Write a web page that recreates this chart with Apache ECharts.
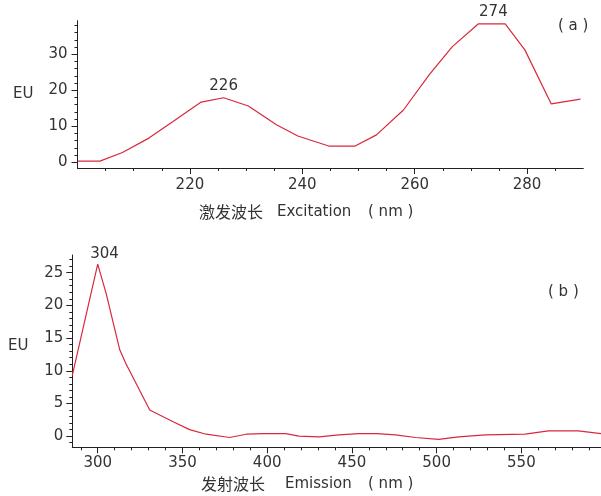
<!DOCTYPE html>
<html>
<head>
<meta charset="utf-8">
<script src="https://cdn.jsdelivr.net/npm/echarts@6/dist/echarts.min.js"></script>
<style>
html,body{margin:0;padding:0;background:#fff;}
#chart{width:601px;height:496px;}
</style>
</head>
<body>
<div id="chart"></div>
<script>
// ---- Data: (a) excitation spectrum ----
const excWavelength = [200, 204, 208, 212.7, 217, 222, 226, 230.4, 235.4, 239.2, 244.7, 249.4, 253.2, 258, 262.6, 266.7, 271.3, 276.1, 279.6, 284.3, 289.5];
const excIntensity  = [0.3, 0.3, 2.7, 6.7, 11.3, 16.7, 17.9, 15.6, 10.4, 7.3, 4.5, 4.5, 7.6, 14.5, 24.3, 32.1, 38.4, 38.4, 31.2, 16.2, 17.5];
const excPeakX = [226, 274];
const excPeakY = [17.9, 38.4];
const excXTicks = [220, 240, 260, 280];
const excYTicks = [0, 10, 20, 30];

// ---- Data: (b) emission spectrum ----
const emWavelength = [285, 300, 305, 313, 316.6, 330.7, 344.5, 354.2, 364, 377.8, 387.6, 397.4, 411, 418.8, 430.6, 442.4, 454, 464.9, 475.7, 487.5, 501.2, 513, 528.7, 552.2, 566, 583.6, 597];
const emIntensity  = [9.3, 26.3, 21.8, 13.2, 11.1, 4.0, 2.2, 1.0, 0.3, -0.2, 0.3, 0.4, 0.4, 0.0, -0.1, 0.2, 0.4, 0.4, 0.2, -0.2, -0.5, -0.1, 0.2, 0.3, 0.8, 0.8, 0.4];
const emPeakX = [304];
const emPeakY = [26.3];
const emXTicks = [300, 350, 400, 450, 500, 550];
const emYTicks = [0, 5, 10, 15, 20, 25];

function steps(a, b, s) { const r = []; for (let v = a; v <= b + 1e-9; v += s) r.push(+v.toFixed(6)); return r; }

const RED = '#d8283c';
const TXT = '#333';
const FONT = '"DejaVu Sans", "Noto Sans CJK SC", sans-serif';

const ranges = {
  ax: [200, 290], ay: [-1.6, 39.3],
  bx: [285, 597], by: [-1.7, 27.7]
};

function mainX(grid, r, ticks, margin) {
  return {
    type: 'value', gridIndex: grid, position: 'bottom', min: r[0], max: r[1],
    axisLine: { show: true, onZero: false, lineStyle: { color: '#222', width: 1 } },
    axisTick: { show: true, length: 6, customValues: ticks, lineStyle: { color: '#222' } },
    axisLabel: { customValues: ticks, margin: margin, color: TXT, fontSize: 15, fontFamily: FONT },
    splitLine: { show: false }
  };
}
function minorX(grid, r, ticks) {
  return {
    type: 'value', gridIndex: grid, position: 'bottom', min: r[0], max: r[1],
    axisLine: { show: false, onZero: false },
    axisTick: { show: true, length: 3, customValues: ticks, lineStyle: { color: '#222' } },
    axisLabel: { show: false },
    splitLine: { show: false }
  };
}
function mainY(grid, r, ticks, margin) {
  return {
    type: 'value', gridIndex: grid, position: 'left', min: r[0], max: r[1],
    axisLine: { show: true, onZero: false, lineStyle: { color: '#222', width: 1 } },
    axisTick: { show: true, length: 6, customValues: ticks, lineStyle: { color: '#222' } },
    axisLabel: { customValues: ticks, margin: margin, color: TXT, fontSize: 15, fontFamily: FONT },
    splitLine: { show: false }
  };
}
function minorY(grid, r, ticks) {
  return {
    type: 'value', gridIndex: grid, position: 'left', min: r[0], max: r[1],
    axisLine: { show: false, onZero: false },
    axisTick: { show: true, length: 3, customValues: ticks, lineStyle: { color: '#222' } },
    axisLabel: { show: false },
    splitLine: { show: false }
  };
}

function peakMarks(xs, ys, dist) {
  return {
    symbol: 'circle', symbolSize: 1, silent: true,
    itemStyle: { color: 'rgba(0,0,0,0)' },
    label: { show: true, position: 'top', distance: dist, color: TXT, fontSize: 15, fontFamily: FONT, formatter: p => String(p.data.name) },
    data: xs.map((x, i) => ({ name: String(x), coord: [x, ys[i]] }))
  };
}

const chart = echarts.init(document.getElementById('chart'), null, { renderer: 'canvas' });
const option = {
  animation: false,
  backgroundColor: '#fff',
  grid: [
    { left: 77.5, top: 20.7, width: 505.8, height: 147.3 },
    { left: 72.3, top: 255, width: 528.7, height: 192.3 }
  ],
  xAxis: [
    mainX(0, ranges.ax, excXTicks, 10),
    minorX(0, ranges.ax, steps(205, 285, 5).filter(v => excXTicks.indexOf(v) < 0)),
    mainX(1, ranges.bx, emXTicks, 8),
    minorX(1, ranges.bx, steps(290, 590, 10).filter(v => emXTicks.indexOf(v) < 0))
  ],
  yAxis: [
    mainY(0, ranges.ay, excYTicks, 10),
    minorY(0, ranges.ay, steps(2, 38, 2).filter(v => excYTicks.indexOf(v) < 0)),
    mainY(1, ranges.by, emYTicks, 9),
    minorY(1, ranges.by, steps(-1, 27, 1).filter(v => emYTicks.indexOf(v) < 0))
  ],
  series: [
    {
      type: 'line', xAxisIndex: 0, yAxisIndex: 0, showSymbol: false, symbol: 'none',
      lineStyle: { color: RED, width: 1.2 }, itemStyle: { color: RED },
      data: excWavelength.map((x, i) => [x, excIntensity[i]]),
      markPoint: peakMarks(excPeakX, excPeakY, 4)
    },
    {
      type: 'line', xAxisIndex: 2, yAxisIndex: 2, showSymbol: false, symbol: 'none',
      lineStyle: { color: RED, width: 1.2 }, itemStyle: { color: RED },
      data: emWavelength.map((x, i) => [x, emIntensity[i]]),
      markPoint: peakMarks(emPeakX, emPeakY, 2)
    }
  ],
  graphic: [
    { type: 'text', left: 13, top: 87, style: { text: 'EU', fill: TXT, font: '15px ' + FONT } },
    { type: 'text', left: 8, top: 339, style: { text: 'EU', fill: TXT, font: '15px ' + FONT } },
    { type: 'text', left: 558, top: 19, style: { text: '( a )', fill: TXT, font: '15px ' + FONT } },
    { type: 'text', left: 548, top: 285, style: { text: '( b )', fill: TXT, font: '15px ' + FONT } },
    { type: 'text', left: 199, top: 204, style: { text: '激发波长', fill: TXT, font: '16px "Noto Sans CJK SC", sans-serif' } },
    { type: 'text', left: 277, top: 205, style: { text: 'Excitation', fill: TXT, font: '15px ' + FONT } },
    { type: 'text', left: 368, top: 205, style: { text: '( nm )', fill: TXT, font: '15px ' + FONT } },
    { type: 'text', left: 201, top: 476, style: { text: '发射波长', fill: TXT, font: '16px "Noto Sans CJK SC", sans-serif' } },
    { type: 'text', left: 285, top: 477, style: { text: 'Emission', fill: TXT, font: '15px ' + FONT } },
    { type: 'text', left: 368, top: 477, style: { text: '( nm )', fill: TXT, font: '15px ' + FONT } }
  ]
};
chart.setOption(option);
</script>
</body>
</html>
